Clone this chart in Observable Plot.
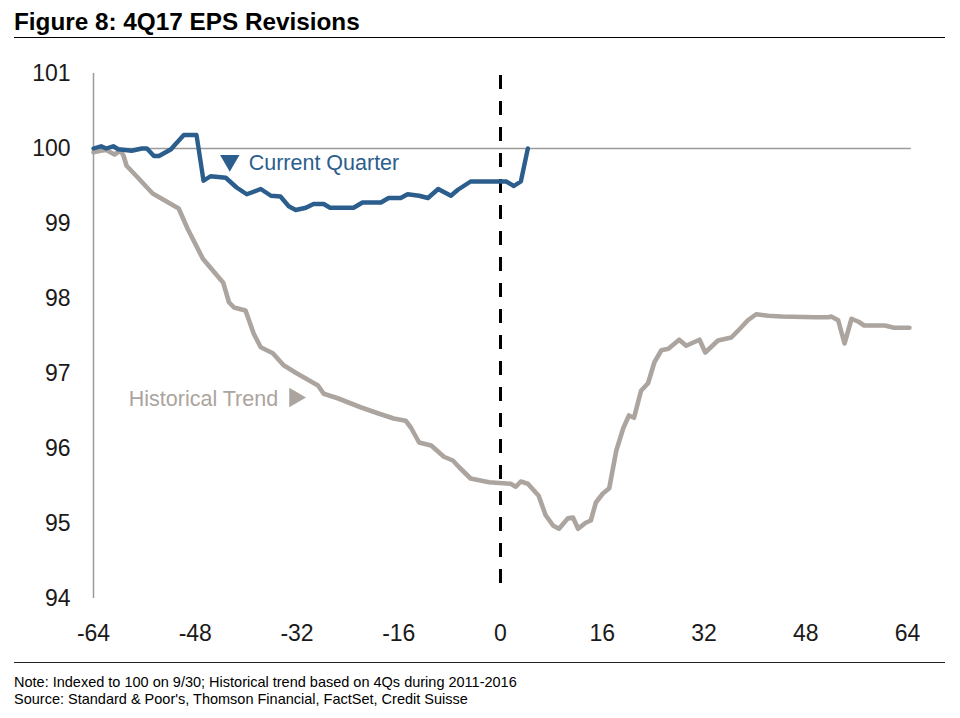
<!DOCTYPE html>
<html><head><meta charset="utf-8">
<script src="https://cdn.jsdelivr.net/npm/d3@7"></script>
<script src="https://cdn.jsdelivr.net/npm/@observablehq/plot@0.6"></script>
<style>
body{margin:0;background:#fff;font-family:"Liberation Sans",Arial,sans-serif;}
#wrap{position:relative;width:960px;height:718px;overflow:hidden;}
#title{position:absolute;left:14px;top:8px;font-weight:bold;font-size:24.3px;line-height:28px;color:#000;}
#rule1{position:absolute;left:14px;top:37px;width:931px;height:0;border-top:1.5px solid #000;}
#chart{position:absolute;left:0;top:40px;}
#rule2{position:absolute;left:14px;top:662px;width:931px;height:0;border-top:1px solid #222;}
#foot{position:absolute;left:14px;top:674px;font-size:14.5px;line-height:16.5px;color:#000;}
</style></head>
<body><div id="wrap">
<div id="title"></div>
<div id="rule1"></div>
<div id="chart"></div>
<div id="rule2"></div>
<div id="foot"><div id="note"></div><div id="source"></div></div>
</div>
<script>
const titleText = "Figure 8: 4Q17 EPS Revisions";
const noteText = "Note: Indexed to 100 on 9/30; Historical trend based on 4Qs during 2011-2016";
const sourceText = "Source: Standard & Poor's, Thomson Financial, FactSet, Credit Suisse";

const xTicks = [-64, -48, -32, -16, 0, 16, 32, 48, 64];
const yTicks = [94, 95, 96, 97, 98, 99, 100, 101];

const currentX = [-64,-62.8,-62,-60.9,-60.1,-58,-56.4,-55.6,-54.5,-53.7,-51.8,-51.4,-49.8,-47.8,-46.7,-45.6,-43.2,-41.5,-39.9,-37.7,-36.1,-34.6,-33.3,-32.2,-30.6,-29.4,-27.8,-26.8,-23.1,-21.7,-18.8,-17.6,-15.7,-14.6,-12.8,-11.4,-9.8,-7.8,-6.7,-4.7,0,0.9,2.1,3.2,4.3];
const currentY = [100,100.03,100,100.03,99.99,99.97,100,100,99.9,99.9,99.99,100.03,100.18,100.18,99.57,99.63,99.61,99.48,99.39,99.46,99.37,99.36,99.23,99.18,99.21,99.26,99.26,99.21,99.21,99.28,99.28,99.34,99.34,99.39,99.37,99.34,99.46,99.37,99.45,99.56,99.56,99.56,99.5,99.56,100];

const histX = [-64,-62.9,-62,-60.7,-59.8,-59.3,-58.8,-56.9,-54.7,-50.6,-49.2,-46.8,-43.6,-42.7,-41.9,-40.1,-38.8,-37.7,-35.8,-34.1,-32.2,-28.7,-27.8,-25.6,-22,-19.3,-16.8,-14.9,-14.1,-12.8,-10.9,-8.9,-7.5,-6.5,-4.7,-1.8,1.6,2.4,3.2,4.3,6,7.1,8.3,9.2,10.6,11.4,12.2,13.4,14.2,15,16.1,17.1,18.2,19.3,20.2,21,22.1,23.2,24.2,25.3,26.4,28.1,29.2,31.3,32.2,34.2,36.3,37.8,38.9,40.2,42.1,44.2,49.4,51.6,52,53.1,54.1,55.2,56.3,57.2,60.4,61.9,64.3];
const histY = [99.95,99.97,99.98,99.92,99.97,99.91,99.77,99.6,99.4,99.2,98.93,98.53,98.21,97.95,97.88,97.84,97.53,97.35,97.27,97.11,97.01,96.84,96.73,96.67,96.55,96.47,96.4,96.37,96.28,96.08,96.04,95.89,95.84,95.75,95.6,95.55,95.53,95.49,95.56,95.53,95.37,95.11,94.97,94.93,95.07,95.08,94.93,95.01,95.04,95.28,95.4,95.47,95.97,96.27,96.44,96.41,96.77,96.87,97.15,97.31,97.33,97.45,97.37,97.45,97.28,97.44,97.48,97.61,97.71,97.79,97.77,97.76,97.75,97.75,97.76,97.71,97.4,97.73,97.69,97.64,97.64,97.61,97.61];

const seriesNames = ["Current Quarter", "Historical Trend"];
const labelX = [-39.6, -58.45];
const labelY = [99.81, 96.66];
const markerX = [-42.57, -32.34];
const markerY = [99.84, 96.68];
const markerRotate = [180, 90];

const baseline = 100;
const dividerX = 0;
const dividerRange = [94.2, 101.05];

const BLUE = "#2b5e8d";
const GREY = "#aca49e";

document.getElementById("title").textContent = titleText;
document.getElementById("note").textContent = noteText;
document.getElementById("source").textContent = sourceText;

const current = currentX.map((x, i) => ({x, y: currentY[i]}));
const hist = histX.map((x, i) => ({x, y: histY[i]}));
const labels = seriesNames.map((name, i) => ({name, x: labelX[i], y: labelY[i], mx: markerX[i], my: markerY[i], rot: markerRotate[i], color: i === 0 ? BLUE : GREY}));

const chart = Plot.plot({
  width: 960,
  height: 620,
  marginLeft: 93,
  marginRight: 53,
  marginTop: 33,
  marginBottom: 62,
  style: {fontFamily: "'Liberation Sans', Arial, sans-serif", fontSize: "23px", color: "#1a1a1a", background: "white", overflow: "visible"},
  x: {domain: [-64, 64], ticks: xTicks, tickFormat: d => String(d), tickSize: 0, tickPadding: 26, label: null},
  y: {domain: [94, 101], ticks: yTicks, tickFormat: d => String(d), tickSize: 0, tickPadding: 23, label: null},
  marks: [
    Plot.ruleX([-64], {y1: 94, y2: 101, stroke: "#9a9a9a", strokeWidth: 1.5}),
    Plot.ruleY([baseline], {x1: -64, x2: 64.6, stroke: "#9a9a9a", strokeWidth: 1.5}),
    Plot.ruleX([dividerX], {y1: dividerRange[0], y2: dividerRange[1], stroke: "#000", strokeWidth: 3, strokeDasharray: "14,12"}),
    Plot.line(hist, {x: "x", y: "y", stroke: GREY, strokeWidth: 4.6, strokeLinejoin: "round", strokeLinecap: "round"}),
    Plot.line(current, {x: "x", y: "y", stroke: BLUE, strokeWidth: 4.4, strokeLinejoin: "round", strokeLinecap: "round"}),
    Plot.dot(labels, {x: "mx", y: "my", symbol: "triangle", rotate: "rot", r: 7.2, fill: "color", stroke: "none"}),
    Plot.text(labels, {x: "x", y: "y", text: "name", fill: "color", textAnchor: "start", fontSize: 21.5})
  ]
});
document.getElementById("chart").appendChild(chart);
</script>
</body></html>
